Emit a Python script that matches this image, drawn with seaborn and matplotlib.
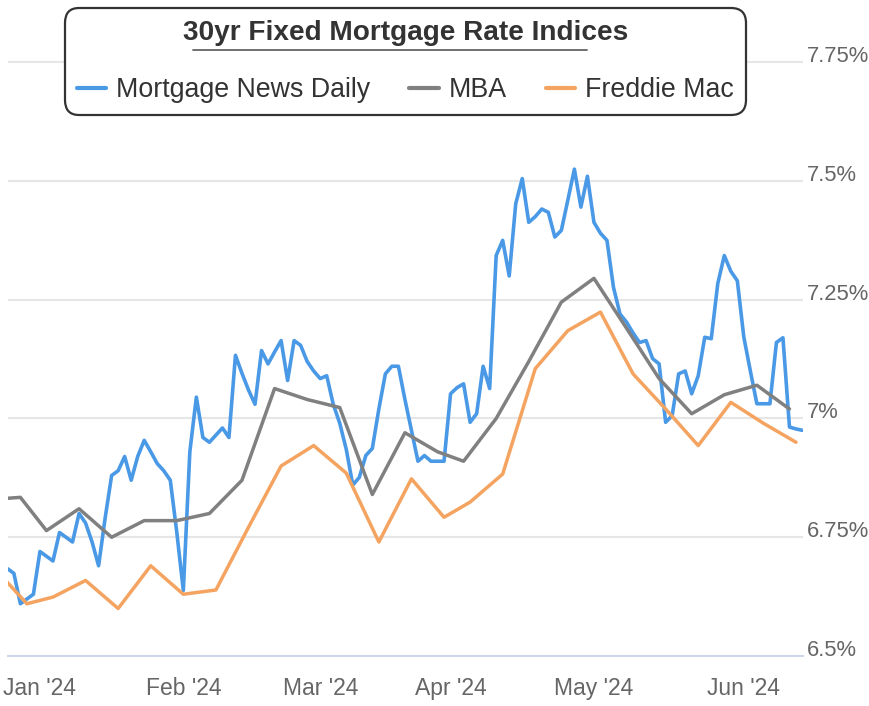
import pandas as pd
import seaborn as sns
import matplotlib.pyplot as plt
from matplotlib.lines import Line2D

# trading days for the ordinal x axis (weekends and a few holidays skipped)
day_start = '2023-12-18'
day_end = '2024-06-14'
skip_days = ['2023-12-25', '2024-01-01', '2024-03-29']

# Mortgage News Daily, one value per trading day from Dec 22 2023 to Jun 14 2024
mnd_first = '2023-12-22'
mnd = [6.684, 6.674, 6.61, 6.62, 6.63,
       6.72, 6.71, 6.70, 6.76, 6.75, 6.74, 6.80, 6.78, 6.74, 6.69,
       6.79, 6.88, 6.89, 6.92, 6.87, 6.92, 6.954, 6.93, 6.905, 6.89,
       6.87, 6.76, 6.638, 6.93, 7.045, 6.96, 6.95, 6.965, 6.98, 6.96,
       7.133, 7.095, 7.06, 7.03, 7.143, 7.115, 7.14, 7.164, 7.08, 7.164,
       7.154, 7.12, 7.10, 7.084, 7.09, 7.03, 6.99, 6.935, 6.86, 6.876,
       6.922, 6.937, 7.02, 7.094, 7.11, 7.11, 7.04, 6.975, 6.91, 6.922,
       6.91, 6.91, 6.91, 7.052, 7.065, 7.073, 6.992, 7.01, 7.11, 7.063,
       7.343, 7.375, 7.30, 7.452, 7.505, 7.413, 7.425, 7.441, 7.434, 7.382,
       7.396, 7.46, 7.525, 7.445, 7.51, 7.413, 7.39, 7.375, 7.276, 7.22,
       7.203, 7.18, 7.16, 7.164, 7.126, 7.115, 6.992, 7.006, 7.094, 7.10,
       7.052, 7.09, 7.171, 7.168, 7.284, 7.343, 7.31, 7.29, 7.171, 7.10,
       7.031, 7.031, 7.031, 7.16, 7.17, 6.982, 6.978, 6.975]

# MBA, weekly (Wednesdays)
mba_dates = pd.date_range('2023-12-20', '2024-06-12', freq='W-WED')
mba = [6.83, 6.834, 6.764, 6.81, 6.75, 6.785, 6.785, 6.80, 6.87, 7.063,
       7.04, 7.023, 6.84, 6.97, 6.93, 6.91, 7.0, 7.12, 7.245, 7.295,
       7.19, 7.084, 7.01, 7.05, 7.07, 7.02]

# Freddie Mac, weekly (Thursdays)
fm_dates = pd.date_range('2023-12-21', '2024-06-13', freq='W-THU')
freddie = [6.67, 6.61, 6.624, 6.659, 6.60, 6.69, 6.63, 6.639, 6.771, 6.90,
           6.943, 6.885, 6.74, 6.873, 6.792, 6.824, 6.883, 7.105, 7.185, 7.224,
           7.094, 7.02, 6.943, 7.034, 6.99, 6.95]

y_ticks = [6.5, 6.75, 7.0, 7.25, 7.5, 7.75]
y_labels = ['6.5%', '6.75%', '7%', '7.25%', '7.5%', '7.75%']
month_labels = ["Jan '24", "Feb '24", "Mar '24", "Apr '24", "May '24", "Jun '24"]

# ordinal positions
days = pd.bdate_range(day_start, day_end).drop(pd.to_datetime(skip_days))
origin = days.get_loc(pd.Timestamp('2024-01-02'))
i0 = days.get_loc(pd.Timestamp(mnd_first))
x_mnd = [i - origin for i in range(i0, i0 + len(mnd))]
x_mba = list(days.get_indexer(mba_dates) - origin)
x_fm = list(days.get_indexer(fm_dates) - origin)
month_pos = []
for m in range(1, 7):
    first = days[(days.month == m) & (days.year == 2024)][0]
    month_pos.append(days.get_loc(first) - origin)

sns.set_style('white')
plt.rcParams['font.family'] = ['Liberation Sans', 'DejaVu Sans']

fig = plt.figure(figsize=(8.69, 7.06), dpi=100)
ax = fig.add_axes([8 / 869, 50 / 706, 794.5 / 869, 656 / 706])

line_kw = dict(solid_joinstyle='round', solid_capstyle='round')
sns.lineplot(x=x_mnd, y=mnd, color='#4a99e6', lw=2.6, ax=ax,
             label='Mortgage News Daily', **line_kw)
sns.lineplot(x=x_mba, y=mba, color='#808080', lw=2.5, ax=ax,
             label='MBA', **line_kw)
sns.lineplot(x=x_fm, y=freddie, color='#f4a460', lw=2.5, ax=ax,
             label='Freddie Mac', **line_kw)

ax.set_xlim(-4.9, 117)
ax.set_ylim(6.5, 7.881)
ax.set_xlabel('')
ax.set_ylabel('')

for s in ['top', 'left', 'right']:
    ax.spines[s].set_visible(False)
ax.spines['bottom'].set_color('#ccd6eb')
ax.spines['bottom'].set_linewidth(1.4)

ax.set_axisbelow(True)
ax.yaxis.grid(True, color='#e6e6e6', lw=1.5)
ax.xaxis.grid(False)

ax.set_xticks(month_pos)
ax.set_xticklabels(month_labels)
ax.tick_params(axis='x', length=7.2, width=1, color='#ccd6eb', pad=8,
               labelsize=16.5, labelcolor='#666666')

ax.yaxis.tick_right()
ax.set_yticks(y_ticks)
ax.set_yticklabels(y_labels)
ax.tick_params(axis='y', length=0, pad=3, labelsize=15.8, labelcolor='#666666')
for lab in ax.get_yticklabels():
    lab.set_va('baseline')

leg = ax.legend(loc='upper center', bbox_to_anchor=(0.5, 0.988), ncol=3,
                title='30yr Fixed Mortgage Rate Indices', fontsize=19.3,
                title_fontproperties={'weight': 'bold', 'size': 20.2},
                labelcolor='#333333', frameon=True, fancybox=True,
                edgecolor='#333333', facecolor='white', framealpha=1,
                borderpad=0.44, labelspacing=1.18, handlelength=1.1,
                handletextpad=0.37, columnspacing=1.46, borderaxespad=0)
leg.get_title().set_color('#333333')
leg.get_frame().set_linewidth(1.6)
leg.get_frame().set_boxstyle('round,pad=0,rounding_size=0.55')
for h in leg.get_lines():
    h.set_linewidth(3)

fig.add_artist(Line2D([193 / 869, 587 / 869], [1 - 50 / 706, 1 - 50 / 706],
                      transform=fig.transFigure, color='#666666', lw=1.3))

fig.savefig('out.png', dpi=100)
